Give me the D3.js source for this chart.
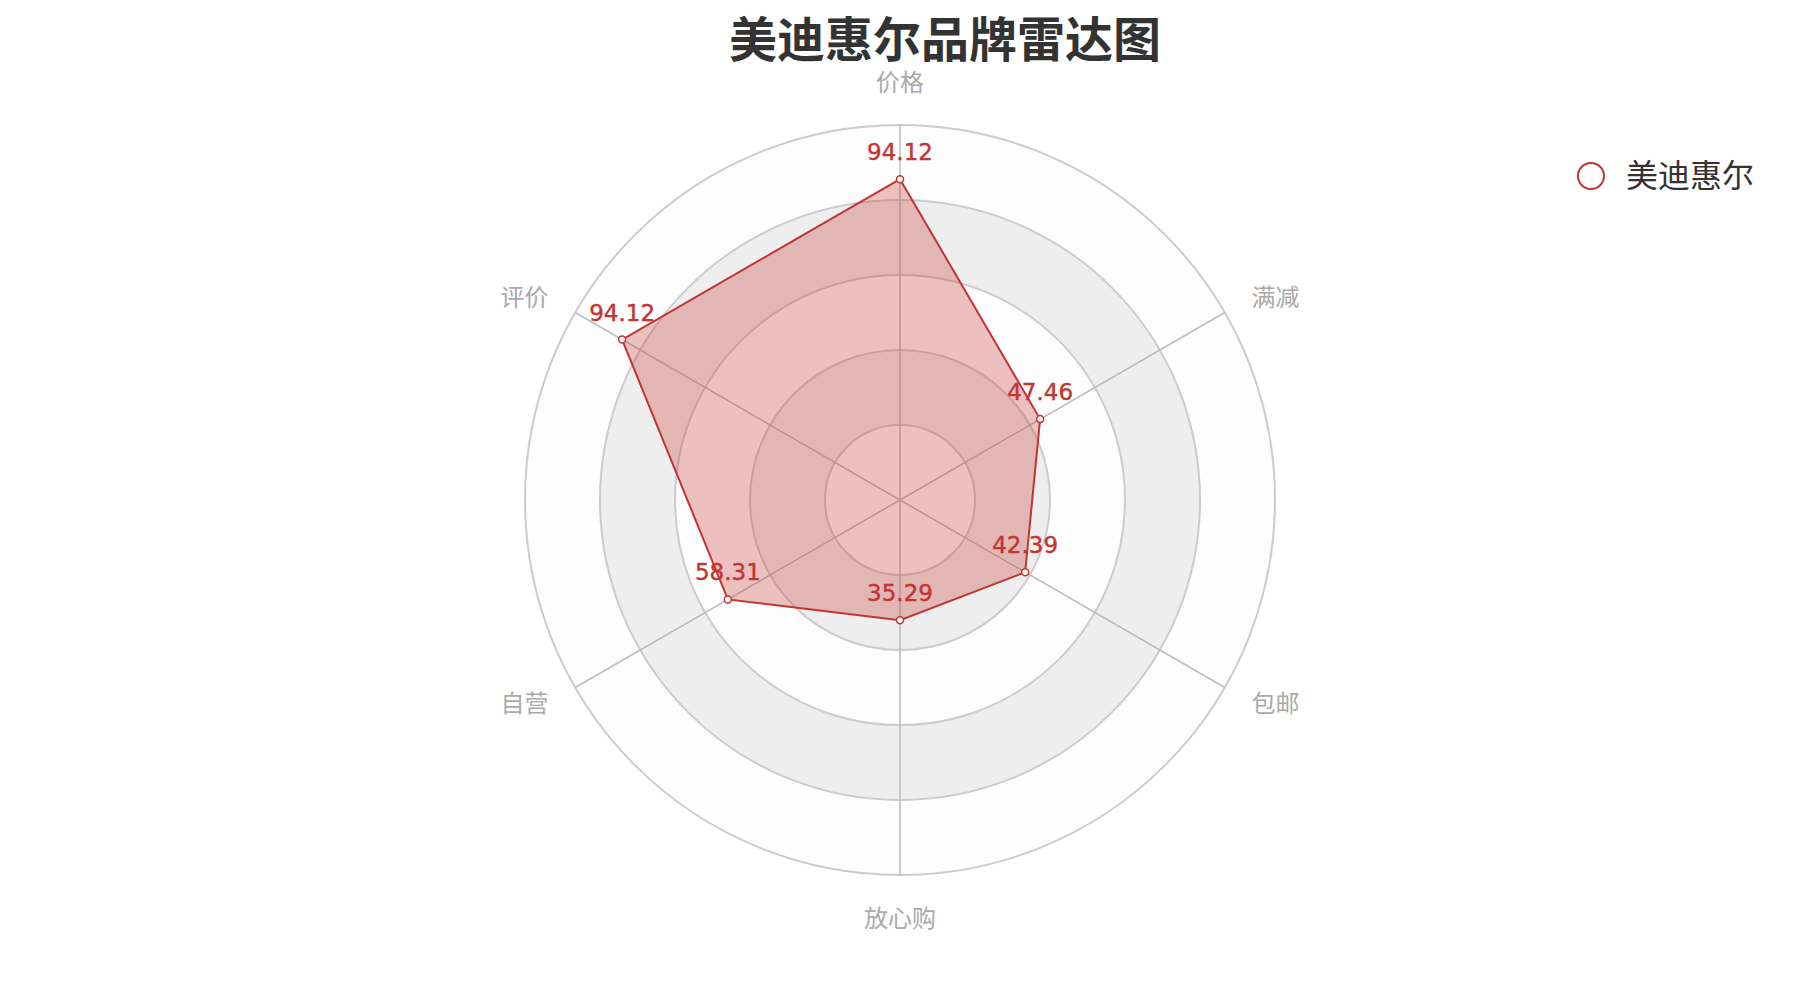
<!DOCTYPE html>
<html>
<head>
<meta charset="utf-8">
<script src="https://cdn.jsdelivr.net/npm/d3@7/dist/d3.min.js"></script>
<style>
  body { margin: 0; background: #fff; }
  svg { display: block; font-family: "DejaVu Sans", "Noto Sans CJK SC", sans-serif; }
</style>
</head>
<body>
<svg width="1800" height="1000"></svg>
<script>
// indicators in clockwise order starting at the top
var indicators = ["价格", "满减", "包邮", "放心购", "自营", "评价"];
var values = [94.12, 47.46, 42.39, 35.29, 58.31, 94.12];
var maxValue = 110;
var splitNumber = 5;
var seriesName = "美迪惠尔";
var titleText = "美迪惠尔品牌雷达图";

(function(){
  var svg = d3.select("svg"),
      cx = 900, cy = 500, radius = 375,
      color = "#c23531";

  var r = d3.scaleLinear().domain([0, maxValue]).range([0, radius]);
  var angle = d3.scaleLinear().domain([0, indicators.length]).range([0, 2 * Math.PI]);

  var g = svg.append("g").attr("transform", "translate(" + cx + "," + cy + ")");

  function pt(i, rad) {
    var a = angle(i);
    return [rad * Math.sin(a), -rad * Math.cos(a)];
  }

  // split areas, alternating shades
  var rings = d3.range(splitNumber);
  var arc = d3.arc();
  g.selectAll("path.area")
    .data(rings)
    .enter().append("path")
    .attr("class", "area")
    .attr("d", function(k){
      return arc({innerRadius: radius * k / splitNumber, outerRadius: radius * (k + 1) / splitNumber,
                  startAngle: 0, endAngle: 2 * Math.PI});
    })
    .attr("fill", function(k){ return k % 2 ? "rgba(200,200,200,0.3)" : "rgba(250,250,250,0.3)"; });

  // split lines
  g.selectAll("circle.split")
    .data(d3.range(1, splitNumber + 1))
    .enter().append("circle")
    .attr("class", "split")
    .attr("r", function(k){ return radius * k / splitNumber; })
    .attr("fill", "none")
    .attr("stroke", "#ccc")
    .attr("stroke-width", 2);

  // axis lines
  g.selectAll("line.axis")
    .data(indicators)
    .enter().append("line")
    .attr("class", "axis")
    .attr("x1", 0).attr("y1", 0)
    .attr("x2", function(d, i){ return pt(i, radius)[0]; })
    .attr("y2", function(d, i){ return pt(i, radius)[1]; })
    .attr("stroke", "#bbb")
    .attr("stroke-width", 1.5);

  // axis names
  g.selectAll("text.name")
    .data(indicators)
    .enter().append("text")
    .attr("class", "name")
    .attr("x", function(d, i){ return pt(i, radius + 31)[0]; })
    .attr("y", function(d, i){
      var p = pt(i, radius + 31), s = Math.sin(angle(i)), c = Math.cos(angle(i));
      if (Math.abs(s) < 0.01) return p[1] + (c > 0 ? -3 : 21);
      return p[1] + 9;
    })
    .attr("text-anchor", function(d, i){
      var s = Math.sin(angle(i));
      return Math.abs(s) < 0.01 ? "middle" : (s > 0 ? "start" : "end");
    })
    .attr("fill", "#aaa")
    .style("font-size", "24px")
    .text(function(d){ return d; });

  // data polygon
  var line = d3.lineRadial()
    .angle(function(d, i){ return angle(i); })
    .radius(function(d){ return r(d); })
    .curve(d3.curveLinearClosed);

  g.append("path")
    .datum(values)
    .attr("d", line)
    .attr("fill", color)
    .attr("fill-opacity", 0.3)
    .attr("stroke", color)
    .attr("stroke-width", 2);

  g.selectAll("circle.dot")
    .data(values)
    .enter().append("circle")
    .attr("class", "dot")
    .attr("cx", function(d, i){ return pt(i, r(d))[0]; })
    .attr("cy", function(d, i){ return pt(i, r(d))[1]; })
    .attr("r", 3.5)
    .attr("fill", "#fff")
    .attr("stroke", color)
    .attr("stroke-width", 1.5);

  g.selectAll("text.val")
    .data(values)
    .enter().append("text")
    .attr("class", "val")
    .attr("x", function(d, i){ return pt(i, r(d))[0]; })
    .attr("y", function(d, i){ return pt(i, r(d))[1] - 19; })
    .attr("text-anchor", "middle")
    .attr("fill", color)
    .style("font-size", "23px")
    .style("font-weight", 500)
    .style("stroke", color)
    .style("stroke-width", 0.4)
    .text(function(d){ return d.toFixed(2); });

  // title
  svg.append("text")
    .attr("x", 945).attr("y", 57)
    .attr("text-anchor", "middle")
    .attr("fill", "#333")
    .style("font-size", "48px")
    .style("font-weight", "bold")
    .style("font-family", "'Noto Sans CJK SC', sans-serif")
    .text(titleText);

  // legend
  var lg = svg.append("g").attr("transform", "translate(1591,176)");
  lg.append("circle")
    .attr("r", 13)
    .attr("fill", "#fff")
    .attr("stroke", color)
    .attr("stroke-width", 2);
  lg.append("text")
    .attr("x", 35).attr("y", 11)
    .attr("fill", "#333")
    .style("font-size", "32px")
    .style("font-family", "'Noto Sans CJK SC', sans-serif")
    .text(seriesName);
}());
</script>
</body>
</html>
